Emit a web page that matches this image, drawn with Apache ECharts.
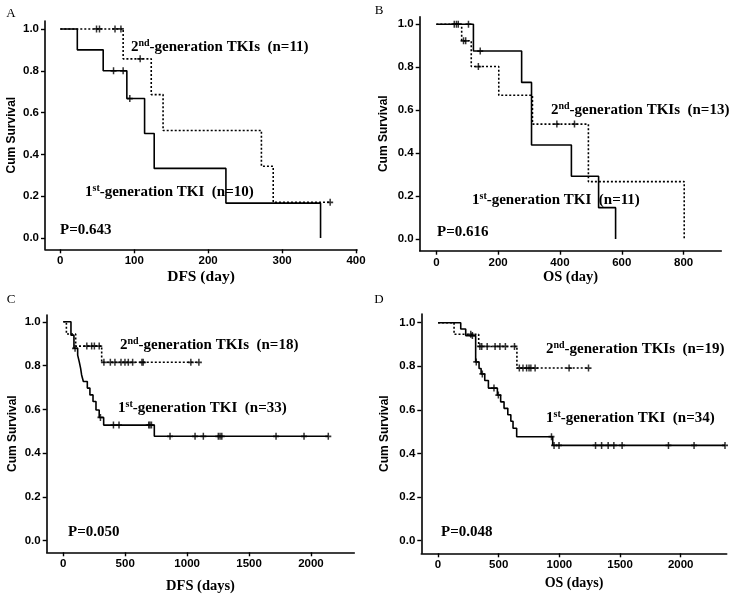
<!DOCTYPE html>
<html><head><meta charset="utf-8">
<script src="https://cdn.jsdelivr.net/npm/echarts@6/dist/echarts.min.js"></script>
<style>html,body{margin:0;padding:0;background:#fff}#c{width:739px;height:602px}</style>
</head><body><div id="c"></div>
<script>
// ---------- Panel A : DFS (day) ----------
const aGen1Times = [0, 23, 58, 90, 114, 127, 224, 352];
const aGen1Surv  = [1, 0.9, 0.8, 0.667, 0.5, 0.333, 0.167, 0];
const aGen1Cens  = [72, 85, 94];
const aGen2Times = [0, 85, 123, 139, 272, 288];
const aGen2Surv  = [1, 0.857, 0.686, 0.514, 0.343, 0.171];
const aGen2Cens  = [49, 53, 74, 82, 108, 365];
const aXTicks = [0, 100, 200, 300, 400];

// ---------- Panel B : OS (day) ----------
const bGen1Times = [0, 120, 276, 308, 437, 525, 580];
const bGen1Surv  = [1, 0.875, 0.729, 0.4375, 0.292, 0.146, 0];
const bGen1Cens  = [58, 65, 104, 142];
const bGen2Times = [0, 82, 113, 202, 311, 492, 802];
const bGen2Surv  = [1, 0.923, 0.803, 0.669, 0.535, 0.267, 0];
const bGen2Cens  = [71, 88, 95, 136, 390, 447];
const bXTicks = [0, 200, 400, 600, 800];

// ---------- Panel C : DFS (days) ----------
const cGen1Times = [0, 62, 86, 116, 129, 140, 148, 162, 194, 215, 240, 264, 290, 326, 735];
const cGen1Surv  = [1, 0.939, 0.879, 0.848, 0.817, 0.787, 0.757, 0.727, 0.697, 0.666, 0.636, 0.597, 0.563, 0.528, 0.477];
const cGen1Cens  = [95, 300, 405, 450, 690, 700, 712, 862, 1064, 1131, 1252, 1266, 1280, 1718, 1944, 2140];
const cGen2Times = [0, 25, 100, 310];
const cGen2Surv  = [1, 0.944, 0.889, 0.815];
const cGen2Cens  = [190, 229, 251, 290, 328, 380, 417, 466, 498, 525, 560, 635, 645, 1030, 1095];
const cXTicks = [0, 500, 1000, 1500, 2000];

// ---------- Panel D : OS (days) ----------
const dGen1Times = [0, 187, 228, 310, 338, 355, 385, 415, 489, 516, 544, 575, 600, 618, 648, 945];
const dGen1Surv  = [1, 0.971, 0.941, 0.82, 0.79, 0.765, 0.735, 0.70, 0.668, 0.637, 0.607, 0.578, 0.548, 0.516, 0.477, 0.437];
const dGen1Cens  = [283, 315, 365, 461, 497, 935, 956, 997, 1298, 1348, 1402, 1449, 1517, 1899, 2110, 2365];
const dGen2Times = [0, 132, 335, 650];
const dGen2Surv  = [1, 0.947, 0.891, 0.792];
const dGen2Cens  = [270, 345, 360, 405, 470, 510, 555, 630, 670, 700, 730, 750, 765, 800, 1080, 1240];
const dXTicks = [0, 500, 1000, 1500, 2000];

const yTicks = [0, 0.2, 0.4, 0.6, 0.8, 1.0];

const SERIF = 'Liberation Serif';
const SANS = 'Liberation Sans';
const PLUS = 'path://M3,0 h2 v3 h3 v2 h-3 v3 h-2 v-3 h-3 v-2 h3 z';

function survAt(times, surv, t) {
  let s = surv[0];
  for (let i = 0; i < times.length; i++) if (times[i] <= t) s = surv[i];
  return s;
}
function curve(times, surv, cens) {
  const d = times.map((t, i) => [t, surv[i]]);
  const lastT = times[times.length - 1];
  const maxC = Math.max(...cens);
  if (maxC > lastT) d.push([maxC, surv[surv.length - 1]]);
  return d;
}
function censPts(times, surv, cens) {
  return cens.map(t => [t, survAt(times, surv, t)]);
}

const panels = [
  {g1: [aGen1Times, aGen1Surv, aGen1Cens], g2: [aGen2Times, aGen2Surv, aGen2Cens], ticks: aXTicks,
   grid: {left: 45, top: 21, width: 312, height: 228.3}, x: [-20.7, 401.3], y: [-0.054, 1.038],
   xName: 'DFS (day)', xNameSize: 15.5, xGap: 20, yGap: 27},
  {g1: [bGen1Times, bGen1Surv, bGen1Cens], g2: [bGen2Times, bGen2Surv, bGen2Cens], ticks: bXTicks,
   grid: {left: 419.7, top: 16.7, width: 301.6, height: 234}, x: [-53.8, 922], y: [-0.0545, 1.035],
   xName: 'OS (day)', xNameSize: 14.5, xGap: 16, yGap: 30},
  {g1: [cGen1Times, cGen1Surv, cGen1Cens], g2: [cGen2Times, cGen2Surv, cGen2Cens], ticks: cXTicks,
   grid: {left: 46.7, top: 315, width: 307.6, height: 237.3}, x: [-134, 2350], y: [-0.053, 1.031],
   xName: 'DFS (days)', xNameSize: 14.5, xGap: 26, yGap: 28.5},
  {g1: [dGen1Times, dGen1Surv, dGen1Cens], g2: [dGen2Times, dGen2Surv, dGen2Cens], ticks: dXTicks,
   grid: {left: 421.3, top: 314, width: 305.4, height: 239.3}, x: [-138, 2379], y: [-0.058, 1.04],
   xName: 'OS (days)', xNameSize: 14, xGap: 23, yGap: 31}
];

const grids = [], xAxes = [], yAxes = [], series = [];
panels.forEach((p, i) => {
  grids.push(Object.assign({outerBoundsMode: 'none', containLabel: false}, p.grid));
  const axisLine = {onZero: false, lineStyle: {color: '#000', width: 1.6}};
  xAxes.push({
    gridIndex: i, type: 'value', min: p.x[0], max: p.x[1],
    axisLine: axisLine,
    axisTick: {show: true, length: 4, customValues: p.ticks, lineStyle: {color: '#000', width: 1.4}},
    axisLabel: {customValues: p.ticks, formatter: v => String(v), color: '#000', fontFamily: SANS, fontWeight: 'bold', fontSize: 11.5, margin: 6},
    splitLine: {show: false},
    name: p.xName, nameLocation: 'middle', nameGap: p.xGap,
    nameTextStyle: {fontFamily: SERIF, fontWeight: 'bold', fontSize: p.xNameSize, color: '#000'}
  });
  yAxes.push({
    gridIndex: i, type: 'value', min: p.y[0], max: p.y[1],
    axisLine: axisLine,
    axisTick: {show: true, length: 4, customValues: yTicks, lineStyle: {color: '#000', width: 1.4}},
    axisLabel: {customValues: yTicks, formatter: v => v.toFixed(1), color: '#000', fontFamily: SANS, fontWeight: 'bold', fontSize: 11.5, margin: 6},
    splitLine: {show: false},
    name: 'Cum Survival', nameLocation: 'middle', nameGap: p.yGap, nameRotate: 90,
    nameTextStyle: {fontFamily: SANS, fontWeight: 'bold', fontSize: 12, color: '#000'}
  });
  [[p.g1, 'solid'], [p.g2, [2, 2]]].forEach(([g, ls]) => {
    series.push({
      type: 'line', xAxisIndex: i, yAxisIndex: i, step: 'end', showSymbol: false, symbol: 'none',
      data: curve(g[0], g[1], g[2]), lineStyle: {color: '#000', width: 1.6, type: ls}, z: 3, silent: true
    });
    series.push({
      type: 'scatter', xAxisIndex: i, yAxisIndex: i, symbol: PLUS, symbolSize: [6, 7],
      data: censPts(g[0], g[1], g[2]), itemStyle: {color: '#000'}, z: 4, silent: true
    });
  });
});

const rich = {
  b: {fontFamily: SERIF, fontWeight: 'bold', fontSize: 15, lineHeight: 18, fill: '#000', color: '#000'},
  s: {fontFamily: SERIF, fontWeight: 'bold', fontSize: 10, lineHeight: 10, fill: '#000', color: '#000', verticalAlign: 'top'}
};
function txt(x, y, text) {
  return {type: 'text', x: x, y: y, z: 10,
    style: {text: text, rich: rich, font: 'bold 15px ' + SERIF, fill: '#000', verticalAlign: 'middle', textVerticalAlign: 'middle'}};
}
function letter(x, y, t) {
  return {type: 'text', x: x, y: y, z: 10,
    style: {text: t, font: '13px ' + SERIF, fill: '#000', align: 'center', textAlign: 'center', verticalAlign: 'middle', textVerticalAlign: 'middle'}};
}
const graphic = [
  letter(11, 14, 'A'), letter(379, 11, 'B'), letter(11, 300, 'C'), letter(379, 300, 'D'),
  txt(131, 47, '{b|2}{s|nd}{b|-generation TKIs  (n=11)}'),
  txt(85, 192, '{b|1}{s|st}{b|-generation TKI  (n=10)}'),
  txt(60, 230, '{b|P=0.643}'),
  txt(551, 110, '{b|2}{s|nd}{b|-generation TKIs  (n=13)}'),
  txt(472, 200, '{b|1}{s|st}{b|-generation TKI  (n=11)}'),
  txt(437, 232, '{b|P=0.616}'),
  txt(120, 345, '{b|2}{s|nd}{b|-generation TKIs  (n=18)}'),
  txt(118, 408, '{b|1}{s|st}{b|-generation TKI  (n=33)}'),
  txt(68, 532, '{b|P=0.050}'),
  txt(546, 349, '{b|2}{s|nd}{b|-generation TKIs  (n=19)}'),
  txt(546, 418, '{b|1}{s|st}{b|-generation TKI  (n=34)}'),
  txt(441, 532, '{b|P=0.048}')
];

const chart = echarts.init(document.getElementById('c'), null, {renderer: 'canvas'});
chart.setOption({
  animation: false,
  backgroundColor: '#fff',
  grid: grids, xAxis: xAxes, yAxis: yAxes, series: series, graphic: graphic
});
</script></body></html>
